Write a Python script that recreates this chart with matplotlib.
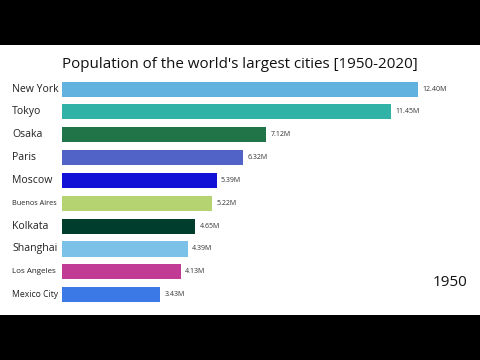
import matplotlib
matplotlib.use('Agg')
import matplotlib.pyplot as plt
from matplotlib.patches import Rectangle

plt.rcParams['font.family'] = ['Open Sans', 'DejaVu Sans']

# 1950 frame of the bar chart race
cities = ['New York', 'Tokyo', 'Osaka', 'Paris', 'Moscow', 'Buenos Aires',
          'Kolkata', 'Shanghai', 'Los Angeles', 'Mexico City']
population = [12.40, 11.45, 7.12, 6.32, 5.39, 5.22, 4.65, 4.39, 4.13, 3.43]
colors = ['#62b2e0', '#30b2a6', '#217447', '#5163c6', '#1212d6', '#b5d370',
          '#003d2c', '#7cc1e8', '#c13b95', '#3a79e6']
label_sizes = [7.6, 7.6, 7.6, 7.6, 7.6, 5.2, 7.6, 7.6, 5.8, 6.2]
year = '1950'
title = "Population of the world's largest cities [1950-2020]"

fig = plt.figure(figsize=(4.8, 3.6), dpi=100, facecolor='black')
# white video frame between the black bands
fig.patches.append(Rectangle((0, 45/360), 1, 270/360, transform=fig.transFigure,
                             facecolor='white', edgecolor='none', zorder=-5))

ax = fig.add_axes([62/480, 0.1497, 408/480, 0.6347])
ax.set_facecolor('none')
ax.set_zorder(2)
y = list(range(len(cities)))
ax.barh(y, population, height=0.66, color=colors)
ax.set_xlim(0, 408/28.7)
ax.set_ylim(len(cities) - 0.5, -0.5)
for s in ax.spines.values():
    s.set_visible(False)
ax.set_xticks([])
ax.set_yticks([])

for i in y:
    ax.text(-50/28.7, i, cities[i], ha='left', va='center',
            fontsize=label_sizes[i], color='#222222', clip_on=False)
    ax.text(population[i] + 0.15, i, '{:.2f}M'.format(population[i]),
            ha='left', va='center', fontsize=5, color='#333333')

fig.text(0.5, 1 - 65/360, title, ha='center', va='center', fontsize=10.9, color='#111111')
fig.text(450/480, 1 - 283/360, year, ha='center', va='center', fontsize=11, color='#111111')

fig.savefig('out.png', dpi=100, facecolor='black')
